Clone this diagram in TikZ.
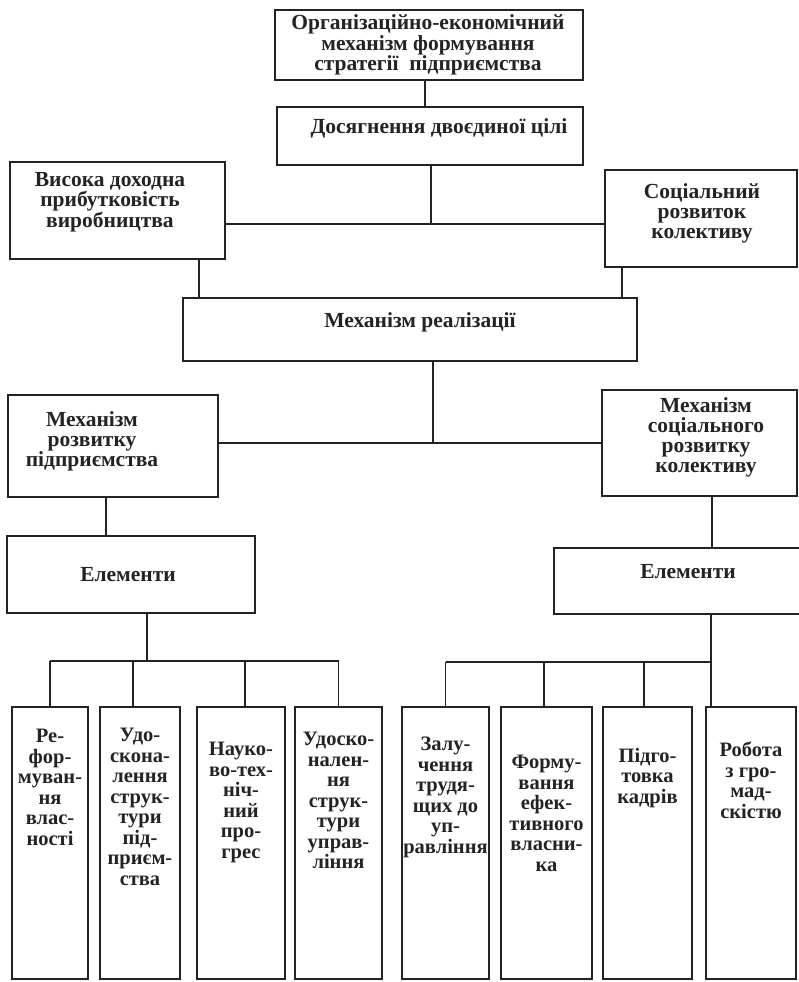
\documentclass[tikz,border=0pt]{standalone}
\usepackage{fontspec}
\setmainfont{Liberation Serif}
\definecolor{ink}{RGB}{35,35,35}
\begin{document}
\begin{tikzpicture}[x=1pt,y=-1pt,
  box/.style={draw=ink,line width=1.3pt,inner sep=0pt},
  lbl/.style={text=ink,font=\bfseries\fontsize{21.5}{20}\selectfont,align=center,inner sep=0pt},
  sml/.style={text=ink,font=\bfseries\fontsize{20.5}{20.5}\selectfont,align=center,inner sep=0pt,anchor=north},
  wire/.style={draw=ink,line width=1.3pt}]
\useasboundingbox[fill=white] (0,0) rectangle (799,982);

% boxes
\node[box,minimum width=308,minimum height=70] (A) at (429,45) {};
\node[box,minimum width=306,minimum height=58] (B) at (430,136) {};
\node[box,minimum width=215,minimum height=97] (C) at (117.5,210.5) {};
\node[box,minimum width=192,minimum height=97] (D) at (701,218.5) {};
\node[box,minimum width=454,minimum height=63] (E) at (410,329.5) {};
\node[box,minimum width=210,minimum height=102] (F) at (113,446) {};
\node[box,minimum width=195,minimum height=106] (G) at (699.5,443) {};
\node[box,minimum width=248,minimum height=77] (H) at (131,574.5) {};
\node[box,minimum width=261,minimum height=66] (I) at (684.5,581) {};

\node[box,minimum width=76,minimum height=272] (b1) at (50,843) {};
\node[box,minimum width=80,minimum height=272] (b2) at (140,843) {};
\node[box,minimum width=88,minimum height=272] (b3) at (241,843) {};
\node[box,minimum width=87,minimum height=272] (b4) at (338.5,843) {};
\node[box,minimum width=87,minimum height=272] (b5) at (445.5,843) {};
\node[box,minimum width=91,minimum height=272] (b6) at (546.5,843) {};
\node[box,minimum width=89,minimum height=272] (b7) at (647.5,843) {};
\node[box,minimum width=90,minimum height=272] (b8) at (751,843) {};

% texts
\node[lbl,font=\bfseries\fontsize{21.5}{18.5}\selectfont] (tA) at (428,45) {Організаційно-економічний\\механізм формування\\стратегії~ підприємства};
\node[lbl] (tB) at (439,128) {Досягнення двоєдиної цілі};
\node[lbl] (tC) at (110,202) {Висока доходна\\прибутковість\\виробництва};
\node[lbl] (tD) at (702,213) {Соціальний\\розвиток\\колективу};
\node[lbl] (tE) at (420,322) {Механізм реалізації};
\node[lbl] (tF) at (92,441) {Механізм\\розвитку\\підприємства};
\node[lbl] (tG) at (706,437) {Механізм\\соціального\\розвитку\\колективу};
\node[lbl] (tH) at (128,575) {Елементи};
\node[lbl] (tI) at (688,572) {Елементи};

\node[sml] (t1) at (50,729) {Ре-\\фор-\\муван-\\ня\\влас-\\ності};
\node[sml] (t2) at (140,728) {Удо-\\скона-\\лення\\струк-\\тури\\під-\\приєм-\\ства};
\node[sml] (t3) at (241,742) {Науко-\\во-тех-\\ніч-\\ний\\про-\\грес};
\node[sml] (t4) at (338.5,732) {Удоско-\\нален-\\ня\\струк-\\тури\\управ-\\ління};
\node[sml] (t5) at (445.5,737) {Залу-\\чення\\трудя-\\щих до\\уп-\\равління};
\node[sml] (t6) at (546.5,755) {Форму-\\вання\\ефек-\\тивного\\власни-\\ка};
\node[sml] (t7) at (647.5,748) {Підго-\\товка\\кадрів};
\node[sml] (t8) at (751,742) {Робота\\з гро-\\мад-\\скістю};

% connectors
\coordinate (j1) at (431,224);
\coordinate (j2) at (433,443);
\coordinate (j3) at (147,661);
\coordinate (j4) at (711,662);

\draw[wire] (A.south -| 425,0) -- (B.north -| 425,0);
\draw[wire] (B.south -| j1) -- (j1);
\draw[wire] (C.east |- j1) -- (D.west |- j1);
\draw[wire] (C.south -| 199,0) -- (E.north -| 199,0);
\draw[wire] (D.south -| 622,0) -- (E.north -| 622,0);

\draw[wire] (E.south -| j2) -- (j2);
\draw[wire] (F.east |- j2) -- (G.west |- j2);
\draw[wire] (F.south -| 106,0) -- (H.north -| 106,0);
\draw[wire] (G.south -| 712,0) -- (I.north -| 712,0);

\draw[wire] (H.south -| j3) -- (j3);
\draw[wire] (b1.north |- j3) -- (b4.north |- j3);
\draw[wire] (b1.north |- j3) -- (b1.north);
\draw[wire] (133,661) -- (b2.north -| 133,0);
\draw[wire] (245,661) -- (b3.north -| 245,0);
\draw[wire] (b4.north |- j3) -- (b4.north);

\draw[wire] (I.south -| j4) -- (j4);
\draw[wire] (b5.north |- j4) -- (j4);
\draw[wire] (b5.north |- j4) -- (b5.north);
\draw[wire] (544,662) -- (b6.north -| 544,0);
\draw[wire] (644,662) -- (b7.north -| 644,0);
\draw[wire] (j4) -- (b8.north -| j4);
\end{tikzpicture}
\end{document}
